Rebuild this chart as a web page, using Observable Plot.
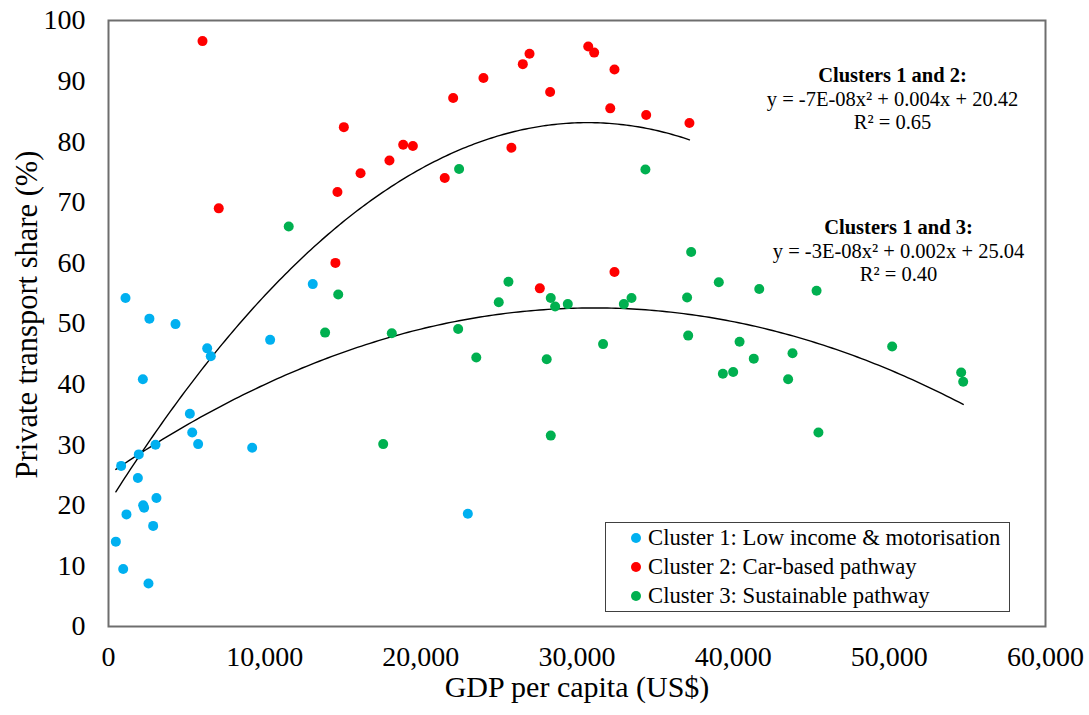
<!DOCTYPE html>
<html>
<head>
<meta charset="utf-8">
<script src="https://cdn.jsdelivr.net/npm/d3@7"></script>
<script src="https://cdn.jsdelivr.net/npm/@observablehq/plot@0.6"></script>
<style>
  body { margin: 0; background: #fff; font-family: "Liberation Serif", "Times New Roman", serif; }
  #wrap { position: relative; width: 1089px; height: 715px; }
  #legend { position: absolute; left: 605px; top: 522px; width: 405px; height: 90px; box-sizing: border-box;
            border: 1.5px solid #404040; background: #fff; font-size: 22.7px; line-height: 29px; color: #000; }
  #legend .row { display: flex; align-items: center; padding-left: 25px; white-space: nowrap; }
  #legend .sw { width: 10px; height: 10px; border-radius: 50%; margin-right: 7px; flex: none; }
</style>
</head>
<body>
<div id="wrap"></div>
<script>
// ---- Data (GDP per capita in US$, private transport share in %) ----
const clusterNames = ["Cluster 1: Low income & motorisation", "Cluster 2: Car-based pathway", "Cluster 3: Sustainable pathway"];
const clusterColors = ["#00B0F0", "#FF0000", "#00B050"];

const gdpC1 = [1090, 2620, 4290, 6320, 6550, 10350, 13080, 2200, 5210, 5360, 5740, 3010, 1940, 810, 1880, 3070, 2220, 2280, 1150, 2860, 470, 940, 2560, 9200, 23010];
const shareC1 = [54.2, 50.8, 49.9, 45.9, 44.6, 47.3, 56.5, 40.8, 35.1, 32.0, 30.1, 30.0, 28.4, 26.5, 24.5, 21.2, 20.0, 19.6, 18.5, 16.6, 14.0, 9.5, 7.1, 29.5, 18.6];

const gdpC2 = [6020, 7060, 15070, 16140, 14660, 17990, 18870, 19490, 22070, 21530, 24010, 25800, 26530, 26960, 28280, 30720, 31100, 32400, 32130, 34430, 37200, 32400, 27620, 14530];
const shareC2 = [96.6, 69.0, 82.4, 74.8, 71.7, 76.9, 79.5, 79.3, 87.2, 74.0, 90.5, 79.0, 92.8, 94.5, 88.2, 95.7, 94.7, 91.9, 85.5, 84.4, 83.1, 58.5, 55.8, 60.0];

const gdpC3 = [11540, 14710, 13870, 18140, 17590, 22450, 34380, 37310, 25610, 24990, 28320, 28600, 29410, 33000, 33490, 37050, 39080, 37120, 39340, 22390, 23550, 28060, 31670, 28320, 41670, 45340, 40410, 41320, 43800, 40000, 43520, 50180, 54600, 54730, 45460];
const shareC3 = [66.0, 54.8, 48.5, 48.4, 30.1, 75.5, 75.4, 61.8, 56.9, 53.5, 54.2, 52.8, 53.2, 53.2, 54.2, 54.3, 56.8, 48.0, 41.7, 49.1, 44.4, 44.1, 46.6, 31.5, 55.7, 55.4, 47.0, 44.2, 45.1, 42.0, 40.8, 46.2, 41.9, 40.4, 32.0];

const xTicks = [0, 10000, 20000, 30000, 40000, 50000, 60000];
const yTicks = [0, 10, 20, 30, 40, 50, 60, 70, 80, 90, 100];

const eq12 = ["Clusters 1 and 2:", "y = -7E-08x\u00B2 + 0.004x + 20.42", "R\u00B2 = 0.65"];
const eq13 = ["Clusters 1 and 3:", "y = -3E-08x\u00B2 + 0.002x + 25.04", "R\u00B2 = 0.40"];

// ---- Build tables ----
const toRows = (xs, ys, c) => xs.map((x, i) => ({gdp: x, share: ys[i], cluster: c}));
const rows1 = toRows(gdpC1, shareC1, 0);
const rows2 = toRows(gdpC2, shareC2, 1);
const rows3 = toRows(gdpC3, shareC3, 2);

// Quadratic least-squares trendline (as the spreadsheet does)
function quadFit(rows) {
  const s = 1000;
  let S = Array(5).fill(0), T = Array(3).fill(0);
  for (const r of rows) {
    const x = r.gdp / s, y = r.share;
    for (let k = 0; k < 5; k++) S[k] += Math.pow(x, k);
    for (let k = 0; k < 3; k++) T[k] += Math.pow(x, k) * y;
  }
  const A = [[S[0], S[1], S[2], T[0]], [S[1], S[2], S[3], T[1]], [S[2], S[3], S[4], T[2]]];
  for (let i = 0; i < 3; i++) {
    for (let j = i + 1; j < 3; j++) {
      const f = A[j][i] / A[i][i];
      for (let k = i; k < 4; k++) A[j][k] -= f * A[i][k];
    }
  }
  const c = [0, 0, 0];
  for (let i = 2; i >= 0; i--) {
    let v = A[i][3];
    for (let k = i + 1; k < 3; k++) v -= A[i][k] * c[k];
    c[i] = v / A[i][i];
  }
  const lo = d3.min(rows, r => r.gdp), hi = d3.max(rows, r => r.gdp);
  return d3.range(0, 201).map(i => {
    const gx = lo + (hi - lo) * i / 200, x = gx / s;
    return {gdp: gx, share: c[0] + c[1] * x + c[2] * x * x};
  });
}
const trend12 = quadFit(rows1.concat(rows2));
const trend13 = quadFit(rows1.concat(rows3));

const font = "Liberation Serif";
const txt = (lines, dx, dy0) => lines.map((t, i) => Plot.text([t], {
  frameAnchor: "top-right", dx, dy: dy0 + i * 23.5, textAnchor: "middle", lineAnchor: "middle",
  fontSize: 20.5, fontWeight: i === 0 ? "bold" : "normal", fill: "#000", fontFamily: font
}));

const chart = Plot.plot({
  width: 1089, height: 715,
  marginLeft: 108, marginRight: 44, marginTop: 20, marginBottom: 89,
  style: {fontFamily: font, fontSize: "28px", color: "#000", background: "#fff", overflow: "visible"},
  x: {domain: [0, 60000], ticks: xTicks, tickFormat: d3.format(","), tickSize: 0, tickPadding: 20, label: null},
  y: {domain: [0, 100], ticks: yTicks, tickSize: 0, tickPadding: 23, label: null},
  marks: [
    Plot.frame({stroke: "#6e6e6e", strokeWidth: 2}),
    Plot.line(trend12, {x: "gdp", y: "share", stroke: "#000", strokeWidth: 1.4}),
    Plot.line(trend13, {x: "gdp", y: "share", stroke: "#000", strokeWidth: 1.4}),
    Plot.dot(rows1, {x: "gdp", y: "share", r: 5, fill: clusterColors[0], stroke: "none"}),
    Plot.dot(rows2, {x: "gdp", y: "share", r: 5, fill: clusterColors[1], stroke: "none"}),
    Plot.dot(rows3, {x: "gdp", y: "share", r: 5, fill: clusterColors[2], stroke: "none"}),
    ...txt(eq12, -153, 55),
    ...txt(eq13, -147, 207),
    Plot.text(["GDP per capita (US$)"], {frameAnchor: "bottom", dy: 70, fontSize: 30, fill: "#000", fontFamily: font}),
    Plot.text(["Private transport share (%)"], {frameAnchor: "left", dx: -81, dy: -9, rotate: -90, textAnchor: "middle", lineAnchor: "middle", fontSize: 30.5, fill: "#000", fontFamily: font})
  ]
});

const wrap = document.getElementById("wrap");
wrap.appendChild(chart);

const legend = document.createElement("div");
legend.id = "legend";
clusterNames.forEach((name, i) => {
  const row = document.createElement("div");
  row.className = "row";
  const sw = document.createElement("span");
  sw.className = "sw";
  sw.style.background = clusterColors[i];
  const label = document.createElement("span");
  label.textContent = name;
  row.appendChild(sw);
  row.appendChild(label);
  legend.appendChild(row);
});
wrap.appendChild(legend);
</script>
</body>
</html>
